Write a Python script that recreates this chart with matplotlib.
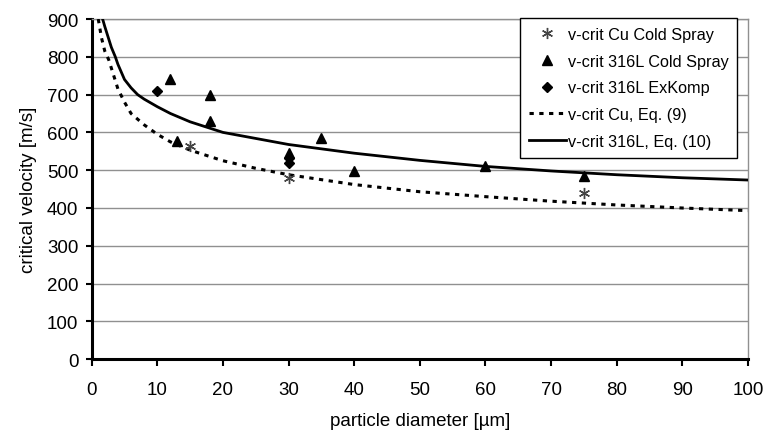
import matplotlib
matplotlib.use("Agg")
import matplotlib.pyplot as plt

# ---------- Data ----------
# measured critical velocities
cu_cs_d = [15, 30, 75]
cu_cs_v = [565, 480, 440]

ss_cs_d = [12, 13, 18, 18, 30, 35, 40, 60, 75]
ss_cs_v = [740, 578, 700, 630, 545, 585, 497, 510, 485]

ss_ex_d = [10, 30, 30]
ss_ex_v = [710, 533, 520]

# curves
cu_eq_d = [1, 1.5, 2, 2.6, 3, 4, 5, 6, 8, 10, 12, 15, 20, 25, 30, 40, 50, 60, 70, 80, 90, 100]
cu_eq_v = [900, 850, 815, 792, 770, 715, 680, 650, 620, 595, 575, 553, 525, 505, 488,
           462, 443, 430, 418, 408, 400, 393]

ss_eq_d = [1.5, 2, 3, 3.6, 4, 5, 6, 7, 8, 10, 12, 15, 20, 25, 30, 40, 50, 60, 70, 80, 90, 100]
ss_eq_v = [910, 880, 825, 800, 780, 740, 718, 700, 688, 668, 650, 628, 600, 584, 568,
           545, 526, 510, 498, 488, 480, 474]

x_ticks = list(range(0, 101, 10))
y_ticks = list(range(0, 901, 100))

# ---------- Plot ----------
plt.rcParams["font.family"] = ["Liberation Sans", "DejaVu Sans"]

fig = plt.figure(figsize=(7.64, 4.35), dpi=100)
ax = fig.add_axes([0.120, 0.172, 0.859, 0.782])

for y in y_ticks[1:]:
    ax.axhline(y, color="#909090", lw=1.0, zorder=0)

ax.plot(cu_cs_d, cu_cs_v, linestyle="none", marker=(6, 2, 0), markersize=8,
        markeredgewidth=1.0, color="#444444", label="v-crit Cu Cold Spray", zorder=4)
ax.plot(ss_cs_d, ss_cs_v, linestyle="none", marker="^", markersize=7,
        color="black", label="v-crit 316L Cold Spray", zorder=4)
ax.plot(ss_ex_d, ss_ex_v, linestyle="none", marker="D", markersize=5,
        color="black", label="v-crit 316L ExKomp", zorder=4)
ax.plot(cu_eq_d, cu_eq_v, color="black", lw=2.2, dashes=(1.4, 1.8),
        dash_capstyle="butt", label="v-crit Cu, Eq. (9)", zorder=3)
ax.plot(ss_eq_d, ss_eq_v, color="black", lw=2.0, label="v-crit 316L, Eq. (10)", zorder=3)

ax.set_xlim(0, 100)
ax.set_ylim(0, 900)
ax.set_xticks(x_ticks)
ax.set_yticks(y_ticks)
ax.tick_params(axis="both", direction="out", width=1.5, labelsize=13.5)
ax.tick_params(axis="x", length=5, pad=11)
ax.tick_params(axis="y", length=4.5, pad=5)

ax.spines["left"].set_linewidth(2.2)
ax.spines["bottom"].set_linewidth(2.2)
ax.spines["top"].set_color("#909090")
ax.spines["top"].set_linewidth(1.0)
ax.spines["right"].set_color("#909090")
ax.spines["right"].set_linewidth(1.0)

ax.set_xlabel("particle diameter [µm]", fontsize=13.5, labelpad=10)
ax.set_ylabel("critical velocity [m/s]", fontsize=13.5, labelpad=7)

leg = ax.legend(loc="upper right", bbox_to_anchor=(0.984, 1.003), borderaxespad=0,
                fontsize=11.7, frameon=True, fancybox=False, framealpha=1,
                edgecolor="black", handlelength=2.3, handletextpad=0.1,
                labelspacing=0.72, borderpad=0.55)
leg.get_frame().set_linewidth(1.0)

fig.savefig("out.png", dpi=100)
